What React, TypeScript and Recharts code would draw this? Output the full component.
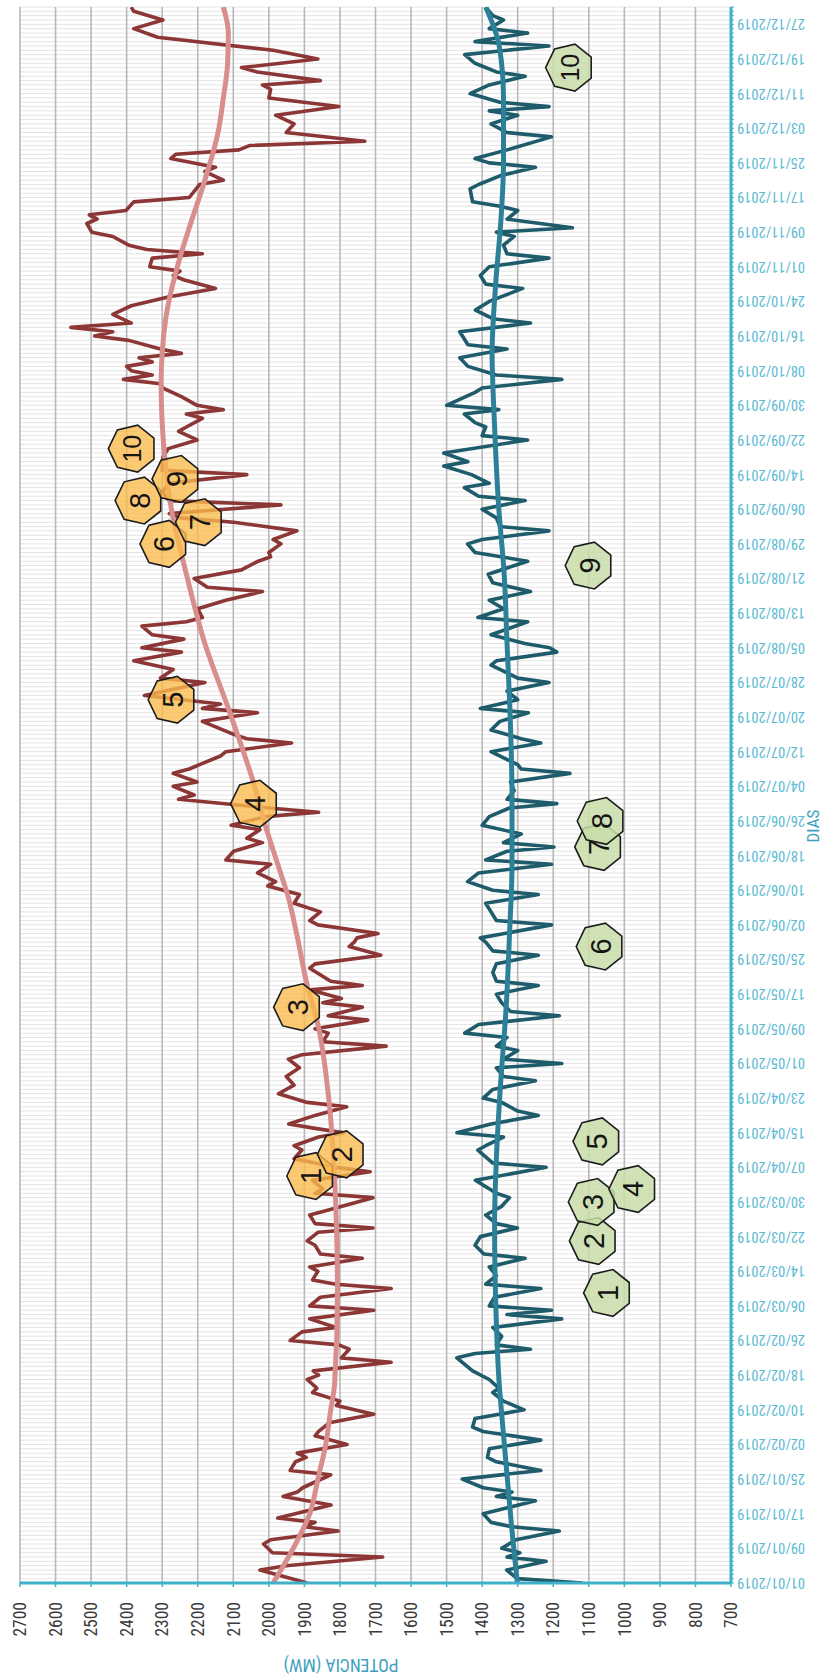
import React from 'react';
import { ComposedChart, Line, Scatter, XAxis, YAxis, CartesianGrid } from 'recharts';

// ---------- tick labels ----------
const dateLabels = [
  '01/01/2019', '09/01/2019', '17/01/2019', '25/01/2019', '02/02/2019', '10/02/2019',
  '18/02/2019', '26/02/2019', '06/03/2019', '14/03/2019', '22/03/2019', '30/03/2019',
  '07/04/2019', '15/04/2019', '23/04/2019', '01/05/2019', '09/05/2019', '17/05/2019',
  '25/05/2019', '02/06/2019', '10/06/2019', '18/06/2019', '26/06/2019', '04/07/2019',
  '12/07/2019', '20/07/2019', '28/07/2019', '05/08/2019', '13/08/2019', '21/08/2019',
  '29/08/2019', '06/09/2019', '14/09/2019', '22/09/2019', '30/09/2019', '08/10/2019',
  '16/10/2019', '24/10/2019', '01/11/2019', '09/11/2019', '17/11/2019', '25/11/2019',
  '03/12/2019', '11/12/2019', '19/12/2019', '27/12/2019',
];
const valueTicks = [700, 800, 900, 1000, 1100, 1200, 1300, 1400, 1500, 1600, 1700, 1800, 1900, 2000, 2100, 2200, 2300, 2400, 2500, 2600, 2700];

// ---------- series: [day of year (0 = 01/01/2019), MW] ----------
const redSeries: [number, number][] = [
  [0,1892],[3,2025],[4,1951],[6,1680],[7,1990],[9,2015],[10,1995],[12,1805],[13,1900],[14,1870],[15,1975],[18,1825],[20,1960],[21,1920],[22,1905],[25,1826],[26,1940],[28,1925],[29,1895],[30,1920],[32,1780],[34,1870],[35,1860],[37,1830],[39,1705],[41,1810],[42,1800],[44,1877],
  [45,1865],[47,1892],[48,1860],[49,1875],[51,1656],[52,1796],[54,1774],[55,1803],[56,1940],[58,1907],[59,1811],[61,1885],[63,1705],[64,1885],[66,1855],[68,1656],[69,1811],[70,1877],[72,1862],[73,1885],[75,1737],[76,1855],[78,1870],[79,1892],[81,1862],[82,1707],[83,1870],[85,1885],[86,1840],[89,1707],[90,1870],[91,1848],[93,1877],[95,1715],[96,1811],[98,1929],[100,1907],[101,1929],[103,1860],[104,1789],[105,1870],[106,1944],[108,1870],[110,1781],[111,1892],
  [113,1973],[115,1929],[117,1951],[119,1914],[121,1945],[122,1907],[124,1670],[125,1848],[127,1833],[128,1870],[130,1722],[131,1833],[133,1737],[134,1848],[135,1796],[137,1885],[138,1737],[139,1826],[142,1885],[143,1870],[145,1685],[147,1774],[148,1760],[149,1752],[150,1693],[152,1862],[153,1885],[155,1855],[157,1929],[159,1914],[160,1959],[161,2003],[162,1981],[164,2032],[166,1995],[167,2121],[169,2099],[171,2018],[172,2062],[174,2025],[175,2106],[177,2010],[178,1860],[179,2000],
  [181,2254],[182,2210],[184,2269],[185,2202],[187,2269],[188,2224],[189,2195],[191,2136],[192,2121],[194,1936],[195,2062],[196,2099],[199,2187],[200,2110],[201,2032],[202,2187],[203,2136],[205,2350],[208,2180],[209,2305],[211,2269],[213,2380],[215,2246],[216,2357],[218,2239],[219,2328],[221,2357],[222,2232],[223,2187],[225,2200],[227,2121],[229,2018],[230,2173],[232,2210],[234,2077],[236,2030],[237,1995],[238,2000],[240,1966],[241,1988],[243,1921],[245,2099],
  [246,2250],[247,2280],[249,1966],[250,2280],[252,2300],[254,2280],[256,2062],[257,2300],[260,2298],[262,2283],[264,2202],[266,2254],[267,2232],[269,2187],[270,2232],[271,2128],[272,2202],[274,2246],[276,2298],[277,2305],[278,2409],[279,2328],[280,2387],[281,2400],[282,2328],[283,2365],[284,2246],[285,2305],[287,2394],[288,2490],[289,2439],[290,2557],[291,2387],[293,2439],[295,2387],[297,2283],[299,2150],[301,2240],[302,2269],[303,2250],[304,2335],[306,2328],[307,2187],[308,2343],[309,2394],[311,2439],[312,2498],[314,2512],
  [315,2483],[316,2505],[317,2402],[319,2380],[320,2224],[323,2195],[324,2128],[326,2180],[327,2150],[329,2276],[330,2261],[331,2084],[332,2055],[333,1730],[335,1951],[337,1929],[339,1981],[341,1803],[343,2000],[345,1995],[346,2018],[347,1855],[349,2032],[350,2077],[352,1862],[354,1988],[357,2313],[359,2380],[361,2298],[363,2380],[364,2387],
];

const redTrend: [number, number][] = [
  [0,1988],[9,1925],[16,1885],[24,1862],[32,1840],[40,1826],[46,1815],[67,1807],[83,1810],[98,1818],[113,1833],[129,1862],[138,1892],[150,1922],[158,1944],[166,1975],[175,2010],[184,2040],[202,2114],[217,2180],[233,2232],[248,2274],[261,2294],[277,2303],[292,2290],[307,2247],[313,2224],[324,2180],[335,2143],[343,2128],[351,2116],[358,2114],[364,2128],
];

const tealSeries: [number, number][] = [
  [0,1117],[1,1301],[3,1331],[5,1220],[6,1330],[7,1294],[8,1345],[10,1305],[12,1183],[13,1316],[14,1375],[16,1397],[19,1250],[20,1360],[21,1316],[22,1397],[24,1456],[26,1235],[28,1360],[29,1385],[31,1380],[33,1235],[35,1397],[36,1427],[38,1420],[40,1282],[42,1340],[44,1370],
  [45,1353],[47,1380],[49,1427],[52,1471],[53,1420],[54,1264],[55,1360],[57,1345],[59,1370],[61,1176],[62,1330],[63,1205],[64,1380],[66,1365],[68,1235],[69,1390],[71,1360],[73,1380],[75,1279],[76,1395],[78,1420],[80,1405],[82,1301],[83,1360],[85,1390],[87,1345],[89,1323],[90,1360],[93,1419],[96,1220],[97,1370],[100,1412],[101,1390],[103,1340],[104,1471],[106,1375],[108,1242],[109,1300],[111,1345],
  [112,1397],[114,1370],[116,1250],[117,1340],[119,1360],[120,1176],[121,1340],[123,1300],[124,1360],[126,1330],[127,1449],[129,1410],[131,1183],[132,1320],[134,1345],[136,1360],[138,1242],[139,1360],[141,1370],[143,1360],[145,1242],[146,1370],[148,1390],[149,1405],[152,1205],[153,1360],[155,1375],[157,1390],[159,1242],[160,1370],[162,1441],[164,1410],[166,1205],[167,1390],[169,1330],[170,1198],[171,1340],[173,1290],[175,1400],[177,1380],[179,1323],[180,1190],
  [181,1330],[183,1310],[185,1320],[187,1153],[188,1290],[189,1300],[192,1375],[194,1235],[195,1290],[197,1375],[199,1350],[201,1270],[202,1405],[204,1300],[206,1330],[208,1212],[209,1300],[212,1375],[213,1360],[215,1190],[216,1210],[217,1280],[219,1375],[222,1272],[223,1412],[225,1340],[227,1380],[229,1264],[231,1370],[233,1383],[236,1272],[238,1420],[240,1441],[241,1400],[243,1212],[244,1350],
  [246,1360],[248,1400],[250,1279],[251,1410],[253,1450],[254,1380],[256,1430],[258,1508],[259,1440],[261,1508],[264,1272],[265,1400],[267,1390],[268,1420],[270,1450],[271,1353],[272,1500],[275,1420],[276,1400],[278,1176],[279,1360],[281,1440],[283,1463],[285,1330],[286,1440],[289,1463],[291,1264],[292,1370],[294,1419],[296,1380],[299,1286],[300,1390],[302,1405],[304,1380],[306,1212],[307,1330],[309,1340],[311,1310],[312,1360],[313,1146],
  [315,1330],[317,1300],[318,1350],[319,1427],[322,1434],[323,1410],[325,1350],[327,1250],[328,1380],[329,1420],[331,1330],[334,1205],[335,1330],[337,1375],[339,1300],[340,1380],[341,1212],[342,1350],[344,1434],[346,1380],[348,1279],[349,1360],[351,1420],[353,1449],[355,1212],[356,1420],[358,1272],[359,1380],[361,1340],[362,1370],[364,1390],
];

const tealTrend: [number, number][] = [
  [0,1301],[12,1316],[24,1329],[39,1345],[46,1352],[60,1360],[83,1365],[98,1360],[113,1350],[135,1331],[150,1323],[166,1316],[181,1316],[202,1322],[217,1330],[233,1338],[248,1353],[269,1366],[284,1372],[300,1362],[315,1347],[328,1340],[343,1340],[355,1352],[364,1390],
];

// ---------- numbered markers: label, day, MW ----------
const orangeLabels = ['1', '2', '3', '4', '5', '6', '7', '8', '9', '10'];
const orangeDays = [94, 99, 133, 180, 204, 240, 245, 250, 255, 262];
const orangeValues = [1882, 1796, 1919, 2040, 2272, 2295, 2195, 2365, 2261, 2384];

const greenLabels = ['1', '2', '3', '4', '5', '6', '7', '8', '9', '10'];
const greenDays = [67, 79, 88, 91, 102, 147, 170, 176, 235, 350];
const greenValues = [1047, 1087, 1090, 976, 1077, 1068, 1072, 1065, 1099, 1154];

// ---------- build library data ----------
const toData = (pts: [number, number][]) => pts.map(([d, v]) => ({ d, v }));
const redData = toData(redSeries);
const redTrendData = toData(redTrend);
const tealData = toData(tealSeries);
const tealTrendData = toData(tealTrend);
const orangeData = orangeLabels.map((n, i) => ({ n, d: orangeDays[i], v: orangeValues[i] }));
const greenData = greenLabels.map((n, i) => ({ n, d: greenDays[i], v: greenValues[i] }));
const dayTicks = Array.from({ length: 365 }, (_, i) => i);

// ---------- styling ----------
const W = 1678;
const H = 823;
const NARROW = '"Liberation Sans Narrow", "Arial Narrow", "Roboto Condensed", "Liberation Sans", Arial, sans-serif';
const SANS = '"Liberation Sans", Arial, Helvetica, sans-serif';
const AXIS = '#3fb0ca';

const DateTick = (props: any) => {
  const { x, y, payload } = props;
  const d = payload?.value;
  if (d % 8 !== 0) return <g />;
  const label = dateLabels[d / 8];
  if (!label) return <g />;
  return (
    <text
      x={x}
      y={y}
      transform={`rotate(-90 ${x} ${y})`}
      textAnchor="end"
      dy="0.35em"
      fontFamily={NARROW}
      fontSize={14.5}
      fill="#5cbad3"
    >
      {label}
    </text>
  );
};

const makeHept = (fill: string, opacity: number) => (props: any) => {
  const { cx, cy, payload } = props;
  if (cx == null || cy == null) return <g />;
  const R = 24;
  const pts = Array.from({ length: 7 }, (_, k) => {
    const a = -Math.PI / 2 + (k * 2 * Math.PI) / 7;
    return `${(cx + R * Math.cos(a)).toFixed(2)},${(cy + R * Math.sin(a)).toFixed(2)}`;
  }).join(' ');
  return (
    <g>
      <polygon points={pts} fill={fill} fillOpacity={opacity} stroke="#1c1c1c" strokeWidth={1.6} />
      <text
        x={cx}
        y={cy}
        dy="0.36em"
        textAnchor="middle"
        fontFamily={SANS}
        fontSize={payload?.n?.length > 1 ? 25 : 29}
        fill="#151515"
      >
        {payload?.n}
      </text>
    </g>
  );
};

export default function App() {
  return (
    <div style={{ position: 'absolute', left: 0, top: 0, width: 823, height: 1678, overflow: 'hidden', background: '#ffffff' }}>
      <div
        style={{
          position: 'absolute',
          left: 0,
          top: 0,
          width: W,
          height: H,
          transformOrigin: '0 0',
          transform: `translateY(${W}px) rotate(-90deg)`,
        }}
      >
        <ComposedChart width={W} height={H} margin={{ top: 20, right: 7, bottom: 0, left: 0 }}>
          <CartesianGrid horizontal={false} stroke="#e4e4e4" strokeWidth={1} />
          <CartesianGrid vertical={false} stroke="#b8b8b8" strokeWidth={1.6} />
          <XAxis
            type="number"
            dataKey="d"
            domain={[0, 364]}
            ticks={dayTicks}
            interval={0}
            height={92}
            tickSize={3}
            tickMargin={3}
            axisLine={{ stroke: AXIS, strokeWidth: 3 }}
            tickLine={{ stroke: AXIS, strokeWidth: 1 }}
            tick={DateTick}
            allowDataOverflow
          />
          <YAxis
            type="number"
            domain={[700, 2700]}
            ticks={valueTicks}
            interval={0}
            width={95}
            tickSize={4}
            tickMargin={15}
            axisLine={{ stroke: AXIS, strokeWidth: 3 }}
            tickLine={{ stroke: AXIS, strokeWidth: 1.5 }}
            tick={{ fontFamily: NARROW, fontSize: 17.5, fill: '#3a3a3a' }}
            allowDataOverflow
          />
          <Line data={redData} dataKey="v" type="linear" stroke="#8c3636" strokeWidth={3.6} strokeLinejoin="round" dot={false} activeDot={false} isAnimationActive={false} />
          <Line data={redTrendData} dataKey="v" type="monotone" stroke="#d98e8e" strokeWidth={5} dot={false} activeDot={false} isAnimationActive={false} />
          <Line data={tealData} dataKey="v" type="linear" stroke="#1e5b6b" strokeWidth={3.6} strokeLinejoin="round" dot={false} activeDot={false} isAnimationActive={false} />
          <Line data={tealTrendData} dataKey="v" type="monotone" stroke="#2c8199" strokeWidth={5} dot={false} activeDot={false} isAnimationActive={false} />
          <Scatter data={orangeData} dataKey="v" shape={makeHept('#fbbb4c', 0.78)} isAnimationActive={false} />
          <Scatter data={greenData} dataKey="v" shape={makeHept('#c8dda9', 0.85)} isAnimationActive={false} />
        </ComposedChart>
        <svg width={W} height={H} style={{ position: 'absolute', left: 0, top: 0, pointerEvents: 'none' }}>
          <text
            x={13}
            y={341}
            transform="rotate(-90 13 341)"
            textAnchor="middle"
            dy="0.35em"
            fontFamily={NARROW}
            fontSize={17.5}
            fill="#3f9fc0"
          >
            POTENCIA (MW)
          </text>
          <text x={852} y={819} textAnchor="middle" fontFamily={NARROW} fontSize={17} fill="#3f9fc0">
            DIAS
          </text>
        </svg>
      </div>
    </div>
  );
}
